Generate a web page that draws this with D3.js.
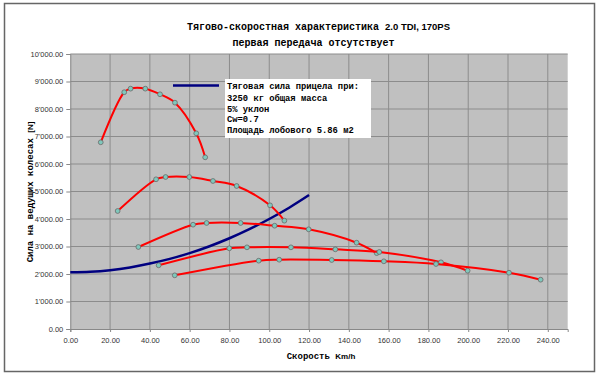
<!DOCTYPE html>
<html><head><meta charset="utf-8">
<script src="https://cdn.jsdelivr.net/npm/d3@7"></script>
<style>body{margin:0;background:#fff}svg{display:block}</style>
</head><body>
<svg id="chart" width="600" height="375"></svg>
<script>
const xTicks = [0,20,40,60,80,100,120,140,160,180,200,220,240];
const yTicks = [0,1000,2000,3000,4000,5000,6000,7000,8000,9000,10000];

// Tractive resistance of the trailer combination (blue)
const trailerSpeed = [0,10,20,30,40,50,60,70,80,90,100,110,120];
const trailerForce = [2060,2080,2140,2240,2380,2550,2760,3010,3300,3630,4000,4410,4870];

// Gear curves (red)
const gear2Speed = [15.3,27.1,30.3,37.7,45.1,52.6,63.3,67.8];
const gear2Force = [6790,8610,8740,8740,8535,8230,7116,6243];
const gear3Speed = [23.8,43.1,47.9,59.8,71.7,83.6,100.4,107.6];
const gear3Force = [4291,5444,5527,5527,5382,5200,4497,3939];
const gear4Speed = [34.2,61.7,68.5,85.6,102.7,119.8,143.9,154.0];
const gear4Force = [2982,3793,3855,3855,3756,3625,3138,2760];
const gear5Speed = [44.4,79.9,88.8,110.9,133.2,155.3,186.3,199.7];
const gear5Force = [2316,2934,2970,2970,2897,2800,2425,2120];
const gear6Speed = [52.5,94.7,105.0,131.4,157.6,183.8,220.5,236.4];
const gear6Force = [1952,2484,2520,2509,2462,2364,2047,1793];

const gears = [
  [gear2Speed, gear2Force],[gear3Speed, gear3Force],[gear4Speed, gear4Force],
  [gear5Speed, gear5Force],[gear6Speed, gear6Force]
];

const legendLines = ["Тяговая сила прицела при:","3250 кг общая масса","5% уклон","Cw=0.7","Площадь лобового 5.86 м2"];

const svg = d3.select("#chart");
const L = 70.3, R = 567.7, T = 54, B = 329;
const x = d3.scaleLinear().domain([0,250]).range([L,R]);
const y = d3.scaleLinear().domain([0,10000]).range([B,T]);

const mono = "'Liberation Mono','Courier New',monospace";
const sans = "'Liberation Sans',Arial,sans-serif";

// frame
svg.append("rect").attr("x",4.5).attr("y",3.5).attr("width",590).attr("height",368)
  .attr("fill","#fff").attr("stroke","#666").attr("stroke-width",1.5);

// plot bg
svg.append("rect").attr("x",L).attr("y",T).attr("width",R-L).attr("height",B-T).attr("fill","#c0c0c0");

// grid
svg.append("g").selectAll("line").data(xTicks.filter(d=>d>0)).join("line")
  .attr("x1",d=>x(d)).attr("x2",d=>x(d)).attr("y1",T).attr("y2",B)
  .attr("stroke","#8c8c8c").attr("stroke-width",1);
svg.append("g").selectAll("line").data(yTicks.filter(d=>d>0)).join("line")
  .attr("x1",L).attr("x2",R).attr("y1",d=>y(d)).attr("y2",d=>y(d))
  .attr("stroke","#8c8c8c").attr("stroke-width",1);

const fmt = v => d3.format(",.2f")(v).replace(/,/g,"'");

// axes
const xAxis = svg.append("g").attr("transform",`translate(0,${B})`)
  .call(d3.axisBottom(x).tickValues(xTicks).tickFormat(fmt).tickSize(3).tickPadding(6));
const yAxis = svg.append("g").attr("transform",`translate(${L},0)`)
  .call(d3.axisLeft(y).tickValues(yTicks).tickFormat(fmt).tickSize(4).tickPadding(3));
[xAxis,yAxis].forEach(a=>{
  a.select(".domain").attr("stroke","#888");
  a.selectAll(".tick line").attr("stroke","#888");
  a.selectAll("text").attr("font-family",sans).attr("font-size",7.5).attr("fill","#333");
});

// lines
const line = d3.line().x(d=>x(d[0])).y(d=>y(d[1])).curve(d3.curveCatmullRom.alpha(0.5));

svg.append("path").datum(trailerSpeed.map((s,i)=>[s,trailerForce[i]]))
  .attr("d",line).attr("fill","none").attr("stroke","#000080").attr("stroke-width",2.5);

gears.forEach(([sp,fo])=>{
  const pts = sp.map((s,i)=>[s,fo[i]]);
  svg.append("path").datum(pts).attr("d",line).attr("fill","none")
    .attr("stroke","#ff0000").attr("stroke-width",2);
  svg.append("g").selectAll("circle").data(pts).join("circle")
    .attr("cx",d=>x(d[0])).attr("cy",d=>y(d[1])).attr("r",2.4)
    .attr("fill","#7fc8bc").attr("stroke","#6a6a6a").attr("stroke-width",0.8);
});

// legend
svg.append("rect").attr("x",225).attr("y",79).attr("width",146).attr("height",59).attr("fill","#fff");
svg.append("line").attr("x1",173).attr("x2",219).attr("y1",85.5).attr("y2",85.5)
  .attr("stroke","#000080").attr("stroke-width",2.5);
const lgY = [89,101,111.5,122,132.5];
svg.append("g").selectAll("text").data(legendLines).join("text")
  .attr("x",227).attr("y",(d,i)=>lgY[i]).text(d=>d)
  .attr("font-family",mono).attr("font-weight","bold").attr("font-size",8.8).attr("fill","#000");

// titles
const t1 = svg.append("text").attr("x",318.5).attr("y",29.5).attr("text-anchor","middle")
  .attr("font-weight","bold").attr("font-size",10).attr("fill","#000");
t1.append("tspan").attr("font-family",mono).text("Тягово-скоростная характеристика ");
t1.append("tspan").attr("font-family",sans).attr("font-size",9.5).text("2.0 TDI, 170PS");
svg.append("text").attr("x",313.5).attr("y",46).attr("text-anchor","middle")
  .attr("font-family",mono).attr("font-weight","bold").attr("font-size",10).text("первая передача отсутствует");

const xt = svg.append("text").attr("x",321).attr("y",359).attr("text-anchor","middle")
  .attr("font-weight","bold").attr("font-size",9);
xt.append("tspan").attr("font-family",mono).text("Скорость ");
xt.append("tspan").attr("font-family",sans).attr("font-size",8).text("Km/h");

const yt = svg.append("text").attr("transform","translate(33,192) rotate(-90)").attr("text-anchor","middle")
  .attr("font-weight","bold").attr("font-size",9);
yt.append("tspan").attr("font-family",mono).text("Сила на ведущих колесах ");
yt.append("tspan").attr("font-family",sans).attr("font-size",8).text("[N]");
</script>
</body></html>
